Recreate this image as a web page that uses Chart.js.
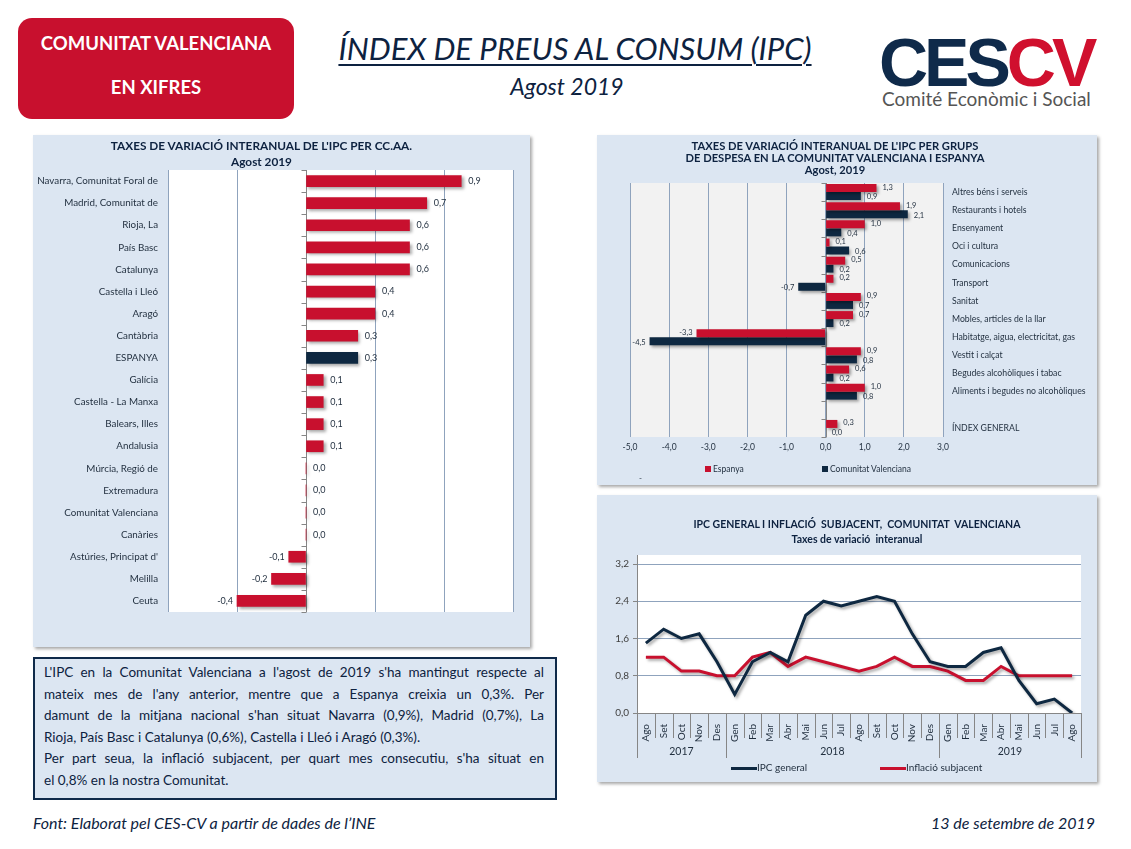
<!DOCTYPE html>
<html><head><meta charset="utf-8">
<script src="https://cdn.jsdelivr.net/npm/chart.js@4.4.0/dist/chart.umd.min.js"></script>
<style>
body{margin:0;width:1131px;height:849px;background:#fff;position:relative;font-family:Lato,'Open Sans',sans-serif;overflow:hidden;color:#0d2240}
.abs{position:absolute}
.panel{position:absolute;background:#dce6f2;box-shadow:2px 2px 3px rgba(0,0,0,0.35)}
.panel canvas{position:absolute;left:0;top:0}
.ptitle{position:absolute;left:0;width:100%;text-align:center;font-weight:bold;color:#0d2240;white-space:nowrap}
.redbox{left:18px;top:18px;width:276px;height:101px;background:#c8102e;border-radius:14px;color:#fff;font-weight:bold;font-size:18.5px;text-align:center}
.txtbox{left:33px;top:657px;width:500px;height:136px;border:2px solid #0f2a4a;background:#dce6f2;padding:3px 11px 0 9px;box-sizing:content-box;font-size:13.5px;line-height:21.6px;color:#0d2240}
.txtbox div{text-align:justify;text-align-last:justify;white-space:nowrap}
.txtbox div.l{text-align:left;text-align-last:left}
.leg{position:absolute;white-space:nowrap;color:#1f2d3d}
</style></head>
<body>
<div class="abs redbox"><div class="abs" style="left:0;width:100%;top:14px">COMUNITAT VALENCIANA</div><div class="abs" style="left:0;width:100%;top:58px">EN XIFRES</div></div>
<div class="abs" style="left:300px;width:550px;top:29px;text-align:center;font-style:italic;font-size:31px;"><span style="text-decoration:underline;text-decoration-thickness:2px;text-underline-offset:4px">ÍNDEX DE PREUS AL CONSUM (IPC)</span></div>
<div class="abs" style="left:467px;width:200px;top:72px;text-align:center;font-style:italic;font-size:23px;">Agost 2019</div>
<div class="abs" style="left:879px;top:22px;font-family:'Liberation Sans',Arial,sans-serif;font-weight:bold;font-size:68px;letter-spacing:-4px;line-height:80px;white-space:nowrap"><span style="color:#0f2a4a">CES</span><span style="color:#d0102e">CV</span></div>
<div class="abs" style="left:882px;top:87px;font-size:19px;color:#555;white-space:nowrap">Comité Econòmic i Social</div>

<div class="panel" style="left:33px;top:135px;width:497px;height:512px">
  <canvas id="c1" width="497" height="512"></canvas>
  <div class="ptitle" style="left:-20px;top:3px;font-size:11.8px;line-height:16px">TAXES DE VARIACIÓ INTERANUAL DE L'IPC PER CC.AA.<br>Agost 2019</div>
</div>

<div class="panel" style="left:597px;top:135px;width:500px;height:350px">
  <canvas id="c2" width="500" height="350"></canvas>
  <div class="ptitle" style="left:-12px;top:5px;font-size:11.2px;line-height:12px">TAXES DE VARIACIÓ INTERANUAL DE L'IPC PER GRUPS<br>DE DESPESA EN LA COMUNITAT VALENCIANA I ESPANYA<br>Agost, 2019</div>
  <div class="leg" style="left:108px;top:329px;font-size:8.5px"><span style="display:inline-block;width:6px;height:6px;background:#c8102e;margin-right:2px"></span>Espanya</div>
  <div class="leg" style="left:225px;top:329px;font-size:8.5px"><span style="display:inline-block;width:6px;height:6px;background:#0e2841;margin-right:2px"></span>Comunitat Valenciana</div>
  <div class="leg" style="left:42px;top:338px;font-size:8px">-</div>
</div>

<div class="panel" style="left:597px;top:495px;width:500px;height:287px">
  <canvas id="c3" width="500" height="287"></canvas>
  <div class="ptitle" style="left:10px;top:22px;font-size:10.5px;line-height:15px">IPC GENERAL I INFLACIÓ &nbsp;SUBJACENT, &nbsp;COMUNITAT &nbsp;VALENCIANA<br>Taxes de variació &nbsp;interanual</div>
  <div class="leg" style="left:134px;top:266px;font-size:10px"><span style="display:inline-block;width:26px;height:3px;background:#0e2841;vertical-align:middle"></span>IPC general</div>
  <div class="leg" style="left:283px;top:266px;font-size:10px"><span style="display:inline-block;width:26px;height:3px;background:#c8102e;vertical-align:middle"></span>Inflació subjacent</div>
</div>

<div class="abs txtbox">
<div>L'IPC en la Comunitat Valenciana a l'agost de 2019 s'ha mantingut respecte al</div>
<div>mateix mes de l'any anterior, mentre que a Espanya creixia un 0,3%. Per</div>
<div>damunt de la mitjana nacional s'han situat Navarra (0,9%), Madrid (0,7%), La</div>
<div class="l">Rioja, País Basc i Catalunya (0,6%), Castella i Lleó i Aragó (0,3%).</div>
<div>Per part seua, la inflació subjacent, per quart mes consecutiu, s'ha situat en</div>
<div class="l">el 0,8% en la nostra Comunitat.</div>
</div>
<div class="abs" style="left:33px;top:813px;font-style:italic;font-size:16px;white-space:nowrap">Font: Elaborat pel CES-CV a partir de dades de l’INE</div>
<div class="abs" style="right:36px;top:813px;font-style:italic;font-size:16px;white-space:nowrap">13 de setembre de 2019</div>

<script>
// ---- Data ----
const regions = ['Navarra, Comunitat Foral de','Madrid, Comunitat de','Rioja, La','País Basc','Catalunya','Castella i Lleó','Aragó','Cantàbria','ESPANYA','Galícia','Castella - La Manxa','Balears, Illes','Andalusia','Múrcia, Regió de','Extremadura','Comunitat Valenciana','Canàries',"Astúries, Principat d'",'Melilla','Ceuta'];
const regionValues = [0.9,0.7,0.6,0.6,0.6,0.4,0.4,0.3,0.3,0.1,0.1,0.1,0.1,0.0,0.0,0.0,0.0,-0.1,-0.2,-0.4];

const groups = ['Altres béns i serveis','Restaurants i hotels','Ensenyament','Oci i cultura','Comunicacions','Transport','Sanitat','Mobles, articles de la llar','Habitatge, aigua, electricitat, gas','Vestit i calçat','Begudes alcohòliques i tabac','Aliments i begudes no alcohòliques','','ÍNDEX GENERAL'];
const espanyaValues = [1.3,1.9,1.0,0.1,0.5,0.2,0.9,0.7,-3.3,0.9,0.6,1.0,null,0.3];
const cvValues = [0.9,2.1,0.4,0.6,0.2,-0.7,0.7,0.2,-4.5,0.8,0.2,0.8,null,0.0];

const months = ['Ago','Set','Oct','Nov','Des','Gen','Feb','Mar','Abr','Mai','Jun','Jul','Ago','Set','Oct','Nov','Des','Gen','Feb','Mar','Abr','Mai','Jun','Jul','Ago'];
const ipcGeneral = [1.5,1.8,1.6,1.7,1.1,0.4,1.1,1.3,1.1,2.1,2.4,2.3,2.4,2.5,2.4,1.7,1.1,1.0,1.0,1.3,1.4,0.7,0.2,0.3,0.0];
const inflSubjacent = [1.2,1.2,0.9,0.9,0.8,0.8,1.2,1.3,1.0,1.2,1.1,1.0,0.9,1.0,1.2,1.0,1.0,0.9,0.7,0.7,1.0,0.8,0.8,0.8,0.8];
const years = ['2017','2018','2019'];
const yearMonthCounts = [5,12,8];

// ---- Styles ----
const RED = '#c8102e', NAVY = '#0e2841', GRID = '#8fa3bd', AXIS = '#868686', TXT = '#1f2d3d';
const FONT = 'Lato, "Open Sans", sans-serif';
Chart.defaults.font.family = FONT;
Chart.defaults.color = TXT;
const fmt = v => v.toFixed(1).replace('.', ',');

const plotBg = {id:'plotBg', beforeDraw(chart, a, o){const {ctx, chartArea:ca}=chart; const t=o.extendTop||0; ctx.save(); ctx.fillStyle=o.color; ctx.fillRect(ca.left, ca.top-t, ca.right-ca.left, ca.bottom-ca.top+t);
  if (o.leftLine){ctx.strokeStyle=AXIS; ctx.lineWidth=1; ctx.beginPath(); const x=Math.round(ca.left)+0.5; ctx.moveTo(x, ca.top-t); ctx.lineTo(x, ca.top); ctx.stroke();}
  ctx.restore();}};
const shadow = {id:'shadow', beforeDatasetsDraw(chart){const c=chart.ctx;c.save();c.shadowColor='rgba(0,0,0,0.35)';c.shadowBlur=3;c.shadowOffsetX=2;c.shadowOffsetY=2;}, afterDatasetsDraw(chart){chart.ctx.restore();}};
const zeroAxis = {id:'zeroAxis', beforeDatasetsDraw(chart){
  const {ctx} = chart; const xs = chart.scales.x, ys = chart.scales.y;
  const x0 = Math.round(xs.getPixelForValue(0)) + 0.5; const n = chart.data.labels.length;
  ctx.save(); ctx.strokeStyle = AXIS; ctx.lineWidth = 1; ctx.beginPath();
  ctx.moveTo(x0, ys.top); ctx.lineTo(x0, ys.bottom);
  for (let i=0;i<=n;i++){const y=Math.round(ys.top + i*(ys.bottom-ys.top)/n)+0.5; ctx.moveTo(x0-5,y); ctx.lineTo(x0,y);}
  ctx.stroke(); ctx.restore();
}};
const valueLabels = {id:'valueLabels', afterDatasetsDraw(chart, a, o){
  const ctx = chart.ctx; ctx.save(); ctx.font = (o.size||8)+'px '+FONT; ctx.fillStyle = TXT; ctx.textBaseline='middle';
  chart.data.datasets.forEach((ds, di) => {
    const meta = chart.getDatasetMeta(di); const dy = (o.dy||[])[di]||0;
    meta.data.forEach((el, i) => { const v = ds.data[i]; if (v===null||v===undefined) return;
      if (v < 0){ctx.textAlign='right'; ctx.fillText(fmt(v), el.x-(o.gapNeg||4), el.y+dy);}
      else {ctx.textAlign='left'; ctx.fillText(fmt(v), Math.max(el.x, el.base)+(o.gap||6), el.y+dy);} });
  });
  ctx.restore();
}};

// ---- Chart 1: CC.AA. ----
new Chart(document.getElementById('c1'), {
  type:'bar',
  data:{labels:regions, datasets:[{data:regionValues, backgroundColor:regions.map(r => r==='ESPANYA'?NAVY:RED), barThickness:11}]},
  options:{indexAxis:'y', responsive:false, animation:false, events:[],
    layout:{padding:{top:35,right:17,bottom:35,left:0}},
    plugins:{legend:{display:false}, tooltip:{enabled:false}, plotBg:{color:'#ffffff'}, valueLabels:{size:9, gap:7, gapNeg:4}},
    scales:{
      x:{min:-0.8,max:1.2,ticks:{display:false,stepSize:0.4},grid:{color:GRID,drawTicks:false},border:{display:false}, afterFit(s){s.height=0;}},
      y:{grid:{display:false,drawTicks:false},border:{display:false},ticks:{font:{size:9.8},padding:10,color:TXT}, afterFit(s){s.width=135;}}
    }},
  plugins:[plotBg, zeroAxis, shadow, valueLabels]
});

// ---- Chart 2: grups de despesa ----
new Chart(document.getElementById('c2'), {
  type:'bar',
  data:{labels:groups, datasets:[
    {label:'Espanya', data:espanyaValues, backgroundColor:RED, barPercentage:1, categoryPercentage:0.88},
    {label:'Comunitat Valenciana', data:cvValues, backgroundColor:NAVY, barPercentage:1, categoryPercentage:0.88}]},
  options:{indexAxis:'y', responsive:false, animation:false, events:[],
    layout:{padding:{top:48,right:0,bottom:30,left:33}},
    plugins:{legend:{display:false}, tooltip:{enabled:false}, plotBg:{color:'#f2f2f2'}, valueLabels:{size:7.5, gap:6, gapNeg:4, dy:[-1,1]}},
    scales:{
      x:{min:-5,max:3,ticks:{stepSize:1,font:{size:8.5},padding:5,color:TXT,callback:v=>fmt(v)},grid:{color:GRID,drawTicks:false},border:{display:false}, afterFit(s){s.height=18;}},
      y:{position:'right',grid:{display:false,drawTicks:false},border:{display:false},ticks:{font:{size:8.7},padding:9,color:TXT}, afterFit(s){s.width=154;}}
    }},
  plugins:[plotBg, zeroAxis, shadow, valueLabels]
});

// ---- Chart 3: IPC general i inflació subjacent ----
const yearAxis = {id:'yearAxis', afterDraw(chart){
  const {ctx} = chart; const xs = chart.scales.x; const b = Math.round(chart.chartArea.bottom);
  const half = (xs.getPixelForValue(1)-xs.getPixelForValue(0))/2;
  const starts = [0]; yearMonthCounts.forEach((c,i)=>starts.push(starts[i]+c));
  ctx.save(); ctx.strokeStyle = AXIS; ctx.lineWidth=1; ctx.beginPath();
  for (let i=0;i<=months.length;i++){
    const x = Math.round(xs.getPixelForValue(i) - half) + 0.5;
    const len = starts.includes(i) ? 45 : 25;
    ctx.moveTo(x, b); ctx.lineTo(x, b+len);
  }
  ctx.stroke();
  ctx.fillStyle = TXT; ctx.font = '10.5px '+FONT; ctx.textAlign='center'; ctx.textBaseline='middle';
  years.forEach((y,k)=>{ const x = (xs.getPixelForValue(starts[k]) + xs.getPixelForValue(starts[k+1]-1))/2; ctx.fillText(y, x, b+39); });
  ctx.restore();
}};
new Chart(document.getElementById('c3'), {
  type:'line',
  data:{labels:months, datasets:[
    {label:'IPC general', data:ipcGeneral, borderColor:NAVY, borderWidth:3, pointRadius:0, tension:0},
    {label:'Inflació subjacent', data:inflSubjacent, borderColor:RED, borderWidth:3, pointRadius:0, tension:0}]},
  options:{responsive:false, animation:false, events:[],
    layout:{padding:{top:69,right:16,bottom:29,left:0}},
    plugins:{legend:{display:false}, tooltip:{enabled:false}, plotBg:{color:'#ffffff', extendTop:9, leftLine:true}},
    scales:{
      x:{offset:true, grid:{display:false}, border:{display:false}, ticks:{autoSkip:false,minRotation:90,maxRotation:90,font:{size:10},padding:3,color:TXT}, afterFit(s){s.height=40;}},
      y:{min:0,max:3.2,ticks:{stepSize:0.8,font:{size:10},padding:4,color:'#404040',callback:v=>fmt(v)},
         grid:{color:c=>c.tick && c.tick.value===0?AXIS:GRID, tickLength:4, tickColor:AXIS},
         border:{display:true,color:AXIS}, afterFit(s){s.width=40;}}
    }},
  plugins:[plotBg, shadow, yearAxis]
});
</script>
</body></html>
